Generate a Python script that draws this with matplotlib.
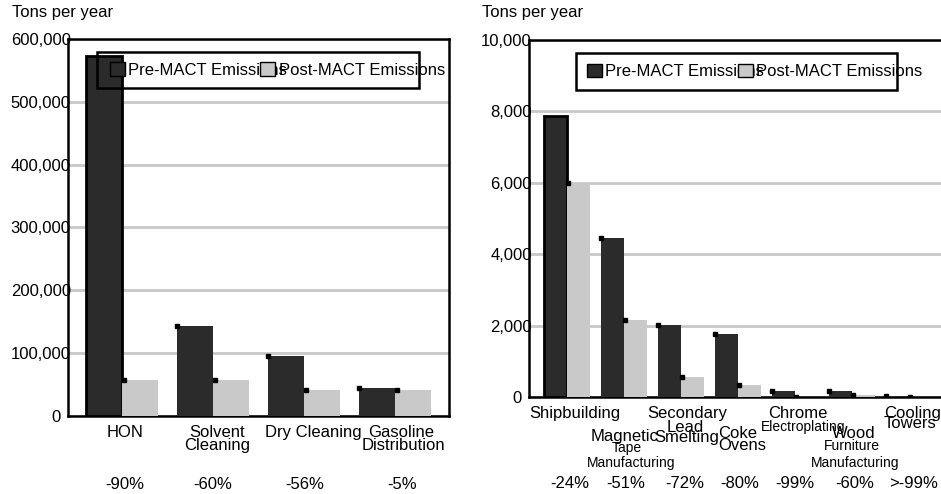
import matplotlib.pyplot as plt
import matplotlib.transforms as mtransforms
from matplotlib.patches import Patch, Rectangle
from matplotlib.ticker import FuncFormatter, MultipleLocator
import numpy as np

plt.rcParams['font.family'] = ['Liberation Sans', 'DejaVu Sans']
plt.rcParams['font.size'] = 12

# Large source categories (tons per year)
left_cats = ['HON', 'Solvent Cleaning', 'Dry Cleaning', 'Gasoline Distribution']
left_pre = [573000, 143000, 95000, 44000]
left_post = [57000, 57000, 42000, 42000]
left_pct = ['-90%', '-60%', '-56%', '-5%']

# Smaller source categories (tons per year)
right_cats = ['Shipbuilding', 'Magnetic Tape Manufacturing', 'Secondary Lead Smelting',
              'Coke Ovens', 'Chrome Electroplating', 'Wood Furniture Manufacturing',
              'Cooling Towers']
right_pre = [7860, 4450, 2020, 1760, 170, 170, 30]
right_post = [6000, 2150, 570, 340, 2, 70, 0.1]
right_pct = ['-24%', '-51%', '-72%', '-80%', '-99%', '-60%', '>-99%']

PRE_COLOR = '#2b2b2b'
POST_COLOR = '#c9c9c9'
GRID_COLOR = '#c8c8c8'

# category label lines: (text, size, baseline px below axis, x nudge px)
left_lines = [
    [('HON', 12, 21, 3)],
    [('Solvent', 12, 21, 4), ('Cleaning', 12, 34, 4)],
    [('Dry Cleaning', 12, 21, 9)],
    [('Gasoline', 12, 21, 6), ('Distribution', 12, 34, 8)],
]
left_pct_nudge = [3, 0, 1, 7]

right_lines = [
    [('Shipbuilding', 12, 21, 8)],
    [('Magnetic', 12, 44, 1), ('Tape', 10, 55, 3), ('Manufacturing', 10, 70, 7)],
    [('Secondary', 12, 21, 6), ('Lead', 12, 35, 4), ('Smelting', 12, 45, 6)],
    [('Coke', 12, 41, 0), ('Ovens', 12, 53, 4)],
    [('Chrome', 12, 21, 3), ('Electroplating', 10, 34, 8)],
    [('Wood', 12, 41, 2), ('Furniture', 10, 53, 0), ('Manufacturing', 10, 70, 3)],
    [('Cooling', 12, 21, 3), ('Towers', 12, 31, 1)],
]
right_pct_nudge = [3, 2, 4, 2, 0, 3, 4]

W, H = 941, 494
fig = plt.figure(figsize=(W / 100, H / 100), dpi=100)


def px_axes(left, top, right, bottom):
    return fig.add_axes([left / W, 1 - bottom / H, (right - left) / W, (bottom - top) / H])


def draw_panel(ax, pre, post, pct, lines, pct_nudge, pct_dy, ymax, step, xlim,
               legend_at, frame_box, zero_label):
    x = np.arange(len(pre))
    width = 0.4
    bars_pre = ax.bar(x - width / 2, pre, width, color=PRE_COLOR, zorder=3)
    bars_post = ax.bar(x + width / 2, post, width, color=POST_COLOR, zorder=3)
    bars_pre[0].set_edgecolor('black')
    bars_pre[0].set_linewidth(2)

    # little corner markers on the bar tops
    ax.plot(x[1:] - width, np.array(pre)[1:], 's', ms=2.2, color='black', zorder=4)
    ax.plot(x + 0.02, post, 's', ms=2.2, color='black', zorder=4)

    ax.set_xlim(*xlim)
    ax.set_ylim(0, ymax)
    ax.yaxis.set_major_locator(MultipleLocator(step))
    ax.yaxis.set_major_formatter(
        FuncFormatter(lambda v, p: zero_label if v == 0 else f'{v:,.0f}'))
    ax.set_xticks([])
    ax.tick_params(axis='y', length=0, pad=-2, labelsize=12)
    ax.yaxis.grid(True, color=GRID_COLOR, linewidth=2)
    ax.set_axisbelow(True)
    for s in ax.spines.values():
        s.set_linewidth(1.8)

    # category labels under the axis
    for i, group in enumerate(lines):
        for text, size, dy, dx in group:
            ax.annotate(text, xy=(i, 0), xycoords=('data', 'axes fraction'),
                        xytext=(dx * 0.72, -dy * 0.72), textcoords='offset points',
                        ha='center', va='baseline', fontsize=size,
                        annotation_clip=False)
        ax.annotate(pct[i], xy=(i, 0), xycoords=('data', 'axes fraction'),
                    xytext=(pct_nudge[i] * 0.72, -pct_dy * 0.72), textcoords='offset points',
                    ha='center', va='baseline', fontsize=12, annotation_clip=False)

    handles = [Patch(facecolor=PRE_COLOR, edgecolor='black', linewidth=1),
               Patch(facecolor=POST_COLOR, edgecolor='black', linewidth=1)]
    ax.legend(handles, ['Pre-MACT Emissions', 'Post-MACT Emissions'], ncol=2,
              loc='center left', bbox_to_anchor=legend_at, frameon=False,
              borderpad=0, borderaxespad=0, handlelength=0.9, handleheight=0.85,
              handletextpad=0.2, columnspacing=-1.6, fontsize=12)
    ax.add_patch(Rectangle(frame_box[:2], frame_box[2], frame_box[3],
                           transform=ax.transAxes, fill=False, edgecolor='black',
                           linewidth=1.8, zorder=5, clip_on=False))


ax1 = px_axes(68, 39, 449, 416)
draw_panel(ax1, left_pre, left_post, left_pct, left_lines, left_pct_nudge, 73,
           600000, 100000, (-0.593, 3.593),
           (0.110, 0.9176), (0.0761, 0.8697, 0.845, 0.0957), '0  ')
ax1.text(12 / W, 1 - 13 / H, 'Tons per year', transform=fig.transFigure,
         ha='left', va='center', fontsize=12)

ax2 = px_axes(529, 40, 941, 397)
draw_panel(ax2, right_pre, right_post, right_pct, right_lines, right_pct_nudge, 91,
           10000, 2000, (-0.667, 6.56),
           (0.1408, 0.9118), (0.114, 0.860, 0.779, 0.1036), '0  ')
ax2.spines['right'].set_visible(False)
ax2.text(482 / W, 1 - 13 / H, 'Tons per year', transform=fig.transFigure,
         ha='left', va='center', fontsize=12)

fig.savefig('out.png', dpi=100)
